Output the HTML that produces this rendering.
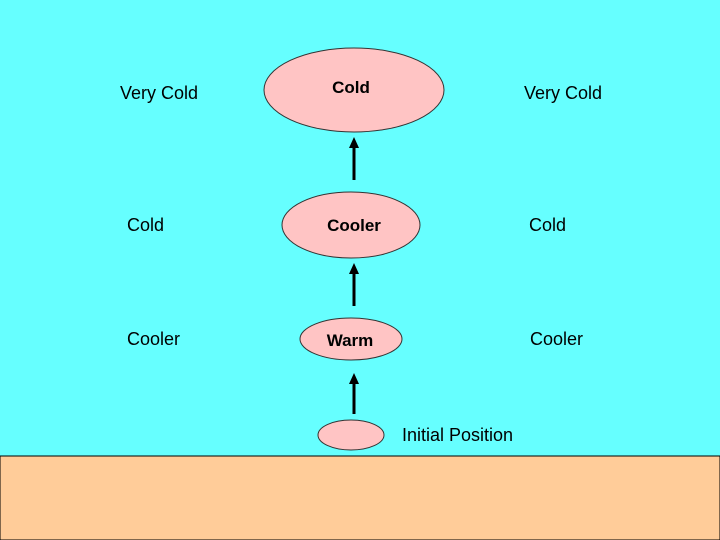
<!DOCTYPE html>
<html><head><style>body{margin:0}svg{display:block}</style></head><body>
<svg width="720" height="540" xmlns="http://www.w3.org/2000/svg" font-family="Liberation Sans, sans-serif" font-size="18">
<rect width="720" height="540" fill="#66FFFF"/>
<rect x="0" y="456" width="720" height="84" fill="#FFCC99" stroke="#000" stroke-width="1"/>
<g fill="#FFC4C4" stroke="#333" stroke-width="1">
<ellipse cx="354" cy="90" rx="90" ry="42"/>
<ellipse cx="351" cy="225" rx="69" ry="33"/>
<ellipse cx="351" cy="339" rx="51" ry="21"/>
<ellipse cx="351" cy="435" rx="33" ry="15"/>
</g>
<g stroke="#000" stroke-width="3">
<line x1="354" y1="180" x2="354" y2="146"/><path d="M349,148 L354,137 L359,148Z" fill="#000" stroke="none"/>
<line x1="354" y1="306" x2="354" y2="272"/><path d="M349,274 L354,263 L359,274Z" fill="#000" stroke="none"/>
<line x1="354" y1="414" x2="354" y2="382"/><path d="M349,384 L354,373 L359,384Z" fill="#000" stroke="none"/>
</g>
<g font-weight="bold" text-anchor="middle" font-size="17">
<text x="351" y="93">Cold</text>
<text x="354" y="231">Cooler</text>
<text x="350" y="346">Warm</text>
</g>
<text x="120" y="99">Very Cold</text>
<text x="524" y="99">Very Cold</text>
<text x="127" y="231">Cold</text>
<text x="529" y="231">Cold</text>
<text x="127" y="345">Cooler</text>
<text x="530" y="345">Cooler</text>
<text x="402" y="441">Initial Position</text>
</svg>
</body></html>
